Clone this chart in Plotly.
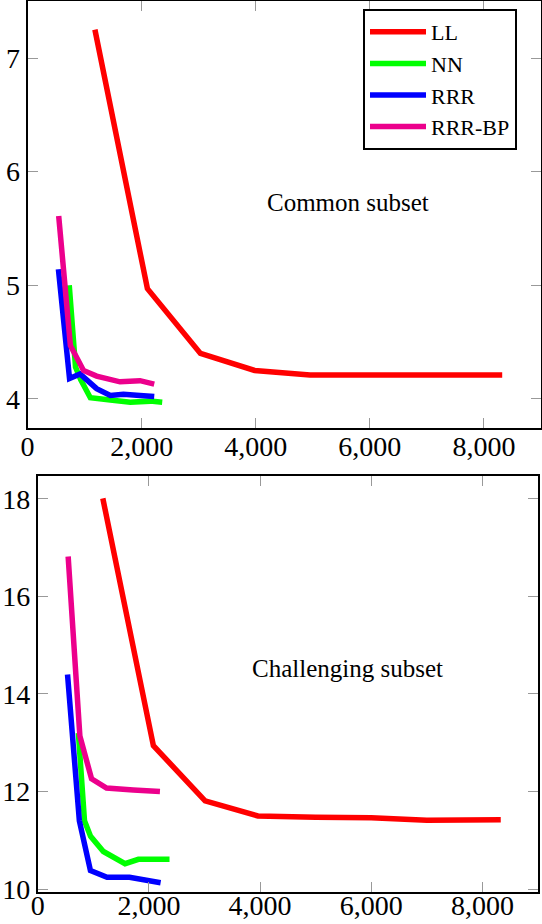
import plotly.graph_objects as go
from plotly.subplots import make_subplots

# ---- data ----
methods = ['LL', 'NN', 'RRR', 'RRR-BP']
colors = ['#ff0000', '#00ff00', '#0000ff', '#ec008c']

# common subset
common_ll_x = [1180, 2100, 3030, 3980, 4950, 6000, 7000, 8320]
common_ll_y = [7.25, 4.97, 4.40, 4.25, 4.21, 4.21, 4.22, 4.21]
common_nn_x = [730, 840, 930, 1100, 1450, 1800, 2150, 2360]
common_nn_y = [5.00, 4.28, 4.17, 4.01, 3.99, 3.97, 3.98, 3.97]
common_rrr_x = [540, 735, 920, 1210, 1450, 1680, 1970, 2220]
common_rrr_y = [5.14, 4.18, 4.22, 4.09, 4.03, 4.04, 4.03, 4.02]
common_bp_x = [545, 750, 980, 1210, 1620, 1970, 2220]
common_bp_y = [5.61, 4.47, 4.25, 4.20, 4.15, 4.16, 4.13]

# challenging subset
chall_ll_x = [1170, 2080, 3010, 3960, 5000, 6000, 7000, 8330]
chall_ll_y = [18.01, 12.94, 11.81, 11.50, 11.47, 11.46, 11.41, 11.42]
chall_nn_x = [730, 840, 950, 1180, 1570, 1810, 2370]
chall_nn_y = [13.20, 11.40, 11.08, 10.77, 10.52, 10.61, 10.61]
chall_rrr_x = [535, 748, 947, 1246, 1650, 1990, 2210]
chall_rrr_y = [14.40, 11.40, 10.38, 10.24, 10.24, 10.17, 10.13]
chall_bp_x = [546, 757, 967, 1237, 1718, 2198]
chall_bp_y = [16.82, 13.14, 12.26, 12.07, 12.03, 12.00]

x_ticks = [0, 2000, 4000, 6000, 8000]
common_y_ticks = [4, 5, 6, 7]
chall_y_ticks = [10, 12, 14, 16, 18]

FONT = 'Liberation Serif'
W, H = 542, 924

fig = make_subplots(rows=2, cols=1)

common = [(common_ll_x, common_ll_y), (common_nn_x, common_nn_y),
          (common_rrr_x, common_rrr_y), (common_bp_x, common_bp_y)]
chall = [(chall_ll_x, chall_ll_y), (chall_nn_x, chall_nn_y),
         (chall_rrr_x, chall_rrr_y), (chall_bp_x, chall_bp_y)]

for name, color, (x, y) in zip(methods, colors, common):
    fig.add_trace(go.Scatter(x=x, y=y, mode='lines', name=name,
                             line=dict(color=color, width=5.5)), row=1, col=1)
for name, color, (x, y) in zip(methods, colors, chall):
    fig.add_trace(go.Scatter(x=x, y=y, mode='lines', name=name, showlegend=False,
                             line=dict(color=color, width=5.5)), row=2, col=1)

axis_style = dict(showline=True, linecolor='black', linewidth=2, mirror='ticks',
                  ticks='inside', ticklen=10, tickcolor='#999999', tickwidth=1,
                  showgrid=False, zeroline=False, automargin=False,
                  tickfont=dict(family=FONT, size=28, color='black'))

fig.update_xaxes(axis_style, range=[0, 9000], tickvals=x_ticks, tickformat=',d')
fig.update_yaxes(axis_style)

# panel positions (px -> paper)
fig.update_layout(
    xaxis=dict(domain=[27.6 / W, 541 / W], ticklabelstandoff=-8),
    yaxis=dict(domain=[1 - 428.4 / H, 1 - 1.2 / H], range=[3.74, 7.5],
               tickvals=common_y_ticks),
    xaxis2=dict(domain=[37.8 / W, 538 / W], ticklabelstandoff=-12),
    yaxis2=dict(domain=[1 - 891.5 / H, 1 - 475.5 / H], range=[9.95, 18.48],
                tickvals=chall_y_ticks),
)

fig.add_annotation(x=5610, y=5.73, xref='x', yref='y', text='Common subset',
                   showarrow=False, font=dict(family=FONT, size=25, color='black'))
fig.add_annotation(x=5570, y=14.52, xref='x2', yref='y2', text='Challenging subset',
                   showarrow=False, font=dict(family=FONT, size=25, color='black'))

fig.update_layout(
    width=W, height=H,
    margin=dict(l=0, r=0, t=0, b=0),
    paper_bgcolor='white', plot_bgcolor='white',
    legend=dict(x=363 / W, y=1 - 9 / H, xanchor='left', yanchor='top',
                bordercolor='black', borderwidth=2, bgcolor='white',
                font=dict(family=FONT, size=22, color='black'),
                itemwidth=56, tracegroupgap=0),
)

# drop the default 8px body margin so the figure sits at the window corner
fig.write_html("out.html", config={'displayModeBar': False},
               post_script="document.body.style.margin='0';")
